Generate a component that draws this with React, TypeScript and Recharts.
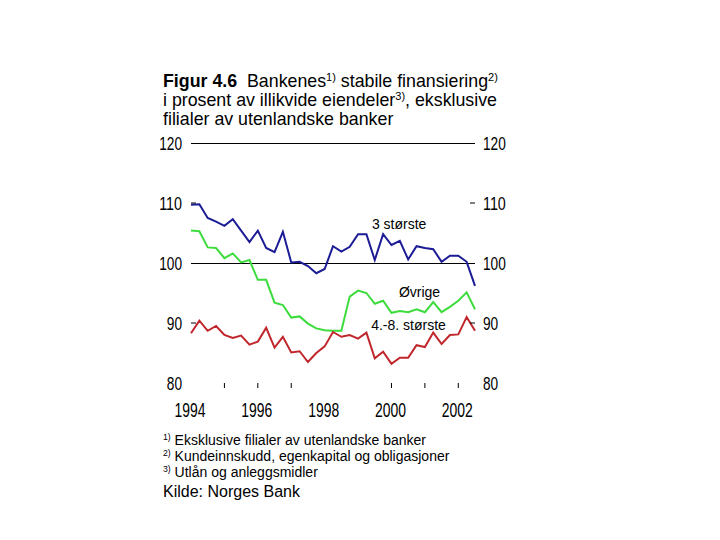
import React from "react";
import {
  LineChart,
  Line,
  XAxis,
  YAxis,
  ReferenceLine,
  ReferenceDot,
} from "recharts";

// Quarterly figures, 1994 Q1 - 2002 Q3
const startYear = 1994;
const storste3 = [
  109.7, 109.8, 107.5, 106.9, 106.2, 107.3, 105.4, 103.5, 105.4, 102.5, 101.8,
  105.2, 100.1, 100.2, 99.5, 98.3, 99.0, 102.8, 101.9, 102.7, 104.8, 104.8,
  100.5, 104.8, 103.0, 103.7, 100.6, 102.8, 102.5, 102.3, 100.2, 101.2, 101.2,
  100.2, 96.2,
];
const ovrige = [
  105.4, 105.3, 102.6, 102.5, 100.8, 101.6, 100.1, 100.5, 97.2, 97.2, 93.4,
  93.0, 90.9, 91.1, 89.9, 89.1, 88.8, 88.7, 88.7, 94.4, 95.4, 95.0, 93.2, 93.7,
  91.7, 92.0, 91.8, 92.3, 91.8, 93.5, 91.8, 92.7, 93.7, 95.1, 92.3,
];
const storste48 = [
  88.3, 90.4, 88.7, 89.5, 88.0, 87.5, 87.9, 86.4, 86.9, 89.2, 85.9, 87.7, 85.1,
  85.3, 83.5, 85.0, 86.1, 88.5, 87.7, 88.0, 87.4, 88.4, 84.1, 85.2, 83.2, 84.2,
  84.2, 86.3, 86.0, 88.4, 86.5, 88.0, 88.1, 91.0, 88.7,
];

const yTicks = [80, 90, 100, 110, 120];
const yTickMarks = [90, 110];
const yearTicks = [1994, 1995, 1996, 1997, 1998, 1999, 2000, 2001, 2002];
const labelledYears = [1994, 1996, 1998, 2000, 2002];
const markedYears = [1995, 1996, 1997, 2000, 2001, 2002];

const data = storste3.map((v, i) => ({
  t: startYear + i / 4,
  storste3: v,
  ovrige: ovrige[i],
  storste48: storste48[i],
}));

const axisFont = "'Liberation Sans', Arial, sans-serif";
const digitWidth = 7.6;

function LeftTick(props: any) {
  const { x, y, payload } = props;
  const label = String(payload.value);
  return (
    <g>
      {yTickMarks.includes(payload.value) && (
        <line x1={x + 8} x2={x + 13} y1={y} y2={y} stroke="#000" />
      )}
      <text
        x={x - 1}
        y={y + 7}
        textAnchor="end"
        fontSize={19}
        fontFamily={axisFont}
        fill="#000"
        textLength={label.length * digitWidth}
        lengthAdjust="spacingAndGlyphs"
      >
        {label}
      </text>
    </g>
  );
}

function RightTick(props: any) {
  const { x, y, payload } = props;
  const label = String(payload.value);
  return (
    <g>
      {yTickMarks.includes(payload.value) && (
        <line x1={x - 13} x2={x - 8} y1={y} y2={y} stroke="#000" />
      )}
      <text
        x={x}
        y={y + 7}
        textAnchor="start"
        fontSize={19}
        fontFamily={axisFont}
        fill="#000"
        textLength={label.length * digitWidth}
        lengthAdjust="spacingAndGlyphs"
      >
        {label}
      </text>
    </g>
  );
}

function YearTick(props: any) {
  const { x, y, payload } = props;
  const year = payload.value;
  return (
    <g>
      {markedYears.includes(year) && (
        <line x1={x} x2={x} y1={y - 8} y2={y - 3} stroke="#000" />
      )}
      {labelledYears.includes(year) && (
        <text
          x={x - 1}
          y={y + 26}
          textAnchor="middle"
          fontSize={20}
          fontFamily={axisFont}
          fill="#000"
          textLength={31}
          lengthAdjust="spacingAndGlyphs"
        >
          {year}
        </text>
      )}
    </g>
  );
}

const supStyle: React.CSSProperties = {
  fontSize: "0.62em",
  lineHeight: 0,
  verticalAlign: "0.55em",
};

export default function App() {
  return (
    <div
      style={{
        position: "relative",
        width: 720,
        height: 540,
        margin: -8,
        background: "#fff",
        fontFamily: axisFont,
        overflow: "hidden",
      }}
    >
      <div
        style={{
          position: "absolute",
          left: 163,
          top: 72,
          fontSize: 17.8,
          lineHeight: "19px",
          color: "#000",
          whiteSpace: "nowrap",
        }}
      >
        <div>
          <b>Figur 4.6</b>&nbsp; Bankenes<sup style={supStyle}>1)</sup> stabile
          finansiering<sup style={supStyle}>2)</sup>
        </div>
        <div>
          i prosent av illikvide eiendeler<sup style={supStyle}>3)</sup>,
          eksklusive
        </div>
        <div>filialer av utenlandske banker</div>
      </div>

      <div style={{ position: "absolute", left: 0, top: 0 }}>
        <LineChart
          width={720}
          height={540}
          data={data}
          margin={{ top: 143, right: 205, bottom: 117, left: 151 }}
        >
          <XAxis
            dataKey="t"
            type="number"
            domain={[1994, 2002.5]}
            ticks={yearTicks}
            interval={0}
            axisLine={false}
            tickLine={false}
            height={40}
            tick={<YearTick />}
          />
          <YAxis
            yAxisId="left"
            orientation="left"
            domain={[80, 120]}
            ticks={yTicks}
            interval={0}
            axisLine={false}
            tickLine={false}
            width={40}
            tick={<LeftTick />}
          />
          <YAxis
            yAxisId="right"
            orientation="right"
            domain={[80, 120]}
            ticks={yTicks}
            interval={0}
            axisLine={false}
            tickLine={false}
            width={40}
            tick={<RightTick />}
          />
          <ReferenceLine
            yAxisId="left"
            y={120}
            stroke="#000"
            strokeWidth={1}
            shapeRendering="crispEdges"
          />
          <ReferenceLine
            yAxisId="left"
            y={100}
            stroke="#000"
            strokeWidth={1}
            shapeRendering="crispEdges"
          />
          <Line
            yAxisId="left"
            dataKey="storste3"
            stroke="#1c1c96"
            strokeWidth={2}
            dot={false}
            isAnimationActive={false}
          />
          <Line
            yAxisId="left"
            dataKey="ovrige"
            stroke="#3ddc3d"
            strokeWidth={2}
            dot={false}
            isAnimationActive={false}
          />
          {/* same 80-120 scale, plotted against the right axis */}
          <Line
            yAxisId="right"
            dataKey="storste48"
            stroke="#c0262c"
            strokeWidth={2}
            dot={false}
            isAnimationActive={false}
          />
          <ReferenceDot
            yAxisId="left"
            x={2000.23}
            y={106.5}
            r={0}
            fill="none"
            stroke="none"
            label={{ value: "3 største", position: "center", fontSize: 14, fill: "#000" }}
          />
          <ReferenceDot
            yAxisId="left"
            x={2000.84}
            y={95.1}
            r={0}
            fill="none"
            stroke="none"
            label={{ value: "Øvrige", position: "center", fontSize: 14, fill: "#000" }}
          />
          <ReferenceDot
            yAxisId="left"
            x={2000.51}
            y={89.6}
            r={0}
            fill="none"
            stroke="none"
            label={{ value: "4.-8. største", position: "center", fontSize: 14, fill: "#000" }}
          />
        </LineChart>
      </div>

      <div
        style={{
          position: "absolute",
          left: 163,
          top: 432,
          fontSize: 14,
          lineHeight: "16px",
          color: "#000",
          whiteSpace: "nowrap",
        }}
      >
        <div>
          <sup style={supStyle}>1)</sup> Eksklusive filialer av utenlandske banker
        </div>
        <div>
          <sup style={supStyle}>2)</sup> Kundeinnskudd, egenkapital og obligasjoner
        </div>
        <div>
          <sup style={supStyle}>3)</sup> Utlån og anleggsmidler
        </div>
        <div style={{ fontSize: 16, marginTop: 4 }}>Kilde: Norges Bank</div>
      </div>
    </div>
  );
}
